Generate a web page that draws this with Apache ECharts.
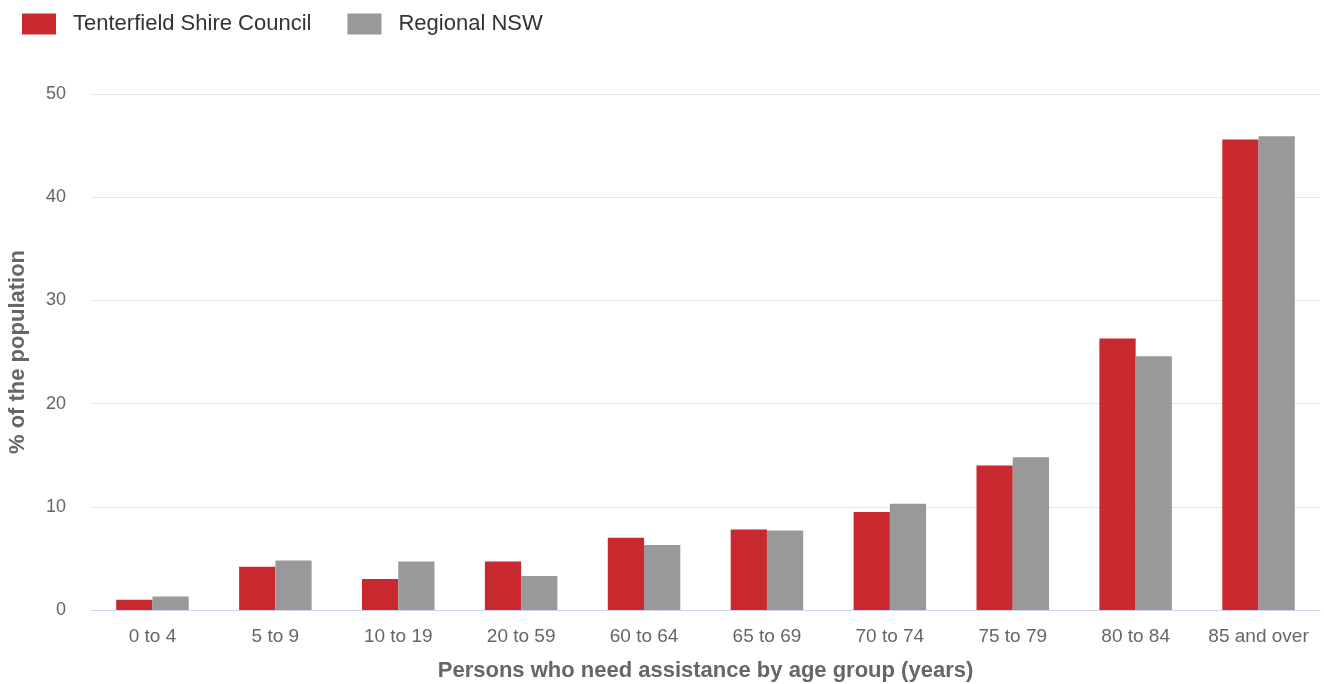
<!DOCTYPE html>
<html>
<head>
<meta charset="utf-8">
<script src="https://cdn.jsdelivr.net/npm/echarts@6/dist/echarts.min.js"></script>
<style>
html,body{margin:0;padding:0;background:#fff;}
#chart{width:1324px;height:684px;}
</style>
</head>
<body>
<div id="chart"></div>
<script>
const categories = ["0 to 4","5 to 9","10 to 19","20 to 59","60 to 64","65 to 69","70 to 74","75 to 79","80 to 84","85 and over"];
const tenterfield = [1.0, 4.2, 3.0, 4.7, 7.0, 7.8, 9.5, 14.0, 26.3, 45.6];
const regionalNSW = [1.3, 4.8, 4.7, 3.3, 6.3, 7.7, 10.3, 14.8, 24.6, 45.9];
const yTicks = [0, 10, 20, 30, 40, 50];

const chart = echarts.init(document.getElementById('chart'));
chart.setOption({
  animation: false,
  textStyle: { fontFamily: 'Liberation Sans, Arial, sans-serif' },
  legend: {
    left: 17, top: 8,
    itemWidth: 34, itemHeight: 21, itemGap: 36,
    icon: 'rect',
    textStyle: { fontSize: 22, color: '#333', padding: [0, 0, 0, 12] },
    data: ['Tenterfield Shire Council', 'Regional NSW']
  },
  grid: { left: 91, right: 4, top: 94, bottom: 74, containLabel: false, outerBoundsMode: 'none' },
  xAxis: {
    type: 'category',
    data: categories,
    axisLine: { lineStyle: { color: '#ccd6eb' } },
    axisTick: { alignWithLabel: true, length: 10, lineStyle: { color: '#ccd6eb' } },
    axisLabel: { fontSize: 19, color: '#666', margin: 17, interval: 0 },
    name: 'Persons who need assistance by age group (years)',
    nameLocation: 'middle',
    nameGap: 50,
    nameTextStyle: { fontSize: 22, fontWeight: 'bold', color: '#666' }
  },
  yAxis: {
    type: 'value',
    min: yTicks[0], max: yTicks[yTicks.length - 1], interval: 10,
    axisLine: { show: false },
    axisTick: { show: false },
    axisLabel: { fontSize: 18, color: '#666', margin: 25 },
    splitLine: { lineStyle: { color: '#e6e6e6' } },
    name: '% of the population',
    nameLocation: 'middle',
    nameGap: 62,
    nameTextStyle: { fontSize: 22, fontWeight: 'bold', color: '#666' }
  },
  series: [
    { name: 'Tenterfield Shire Council', type: 'bar', data: tenterfield,
      itemStyle: { color: '#C8292F' }, barGap: '0%', barCategoryGap: '41%' },
    { name: 'Regional NSW', type: 'bar', data: regionalNSW,
      itemStyle: { color: '#999999' }, barGap: '0%', barCategoryGap: '41%' }
  ]
});
</script>
</body>
</html>
